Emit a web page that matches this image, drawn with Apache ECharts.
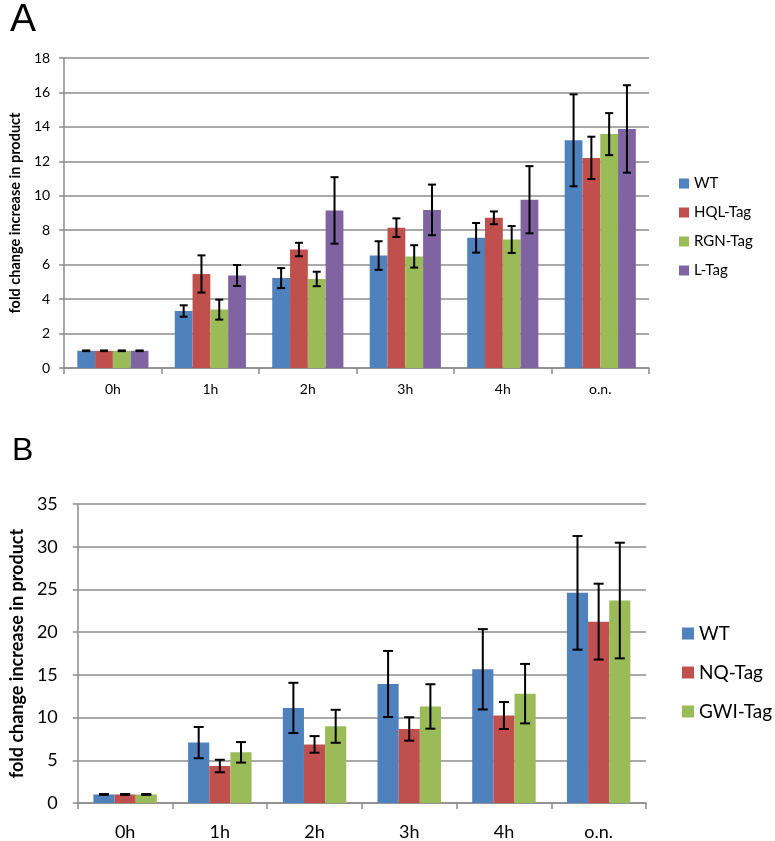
<!DOCTYPE html>
<html>
<head>
<meta charset="utf-8">
<script src="https://cdn.jsdelivr.net/npm/echarts@6/dist/echarts.min.js"></script>
<style>html,body{margin:0;padding:0;background:#fff}#c{width:775px;height:841px}</style>
</head>
<body>
<div id="c"></div>
<script>
// Panel A
const catsA = ['0h','1h','2h','3h','4h','o.n.'];
const namesA = ['WT','HQL-Tag','RGN-Tag','L-Tag'];
const wtA   = [1.0, 3.31, 5.22, 6.53, 7.56, 13.22];
const hqlA  = [1.0, 5.46, 6.88, 8.15, 8.72, 12.2];
const rgnA  = [1.0, 3.39, 5.17, 6.48, 7.46, 13.58];
const lA    = [1.0, 5.37, 9.15, 9.18, 9.77, 13.88];
const wtAErr  = [0.02, 0.33, 0.58, 0.83, 0.86, 2.67];
const hqlAErr = [0.02, 1.08, 0.39, 0.54, 0.37, 1.23];
const rgnAErr = [0.02, 0.58, 0.42, 0.65, 0.78, 1.22];
const lAErr   = [0.02, 0.61, 1.93, 1.47, 1.95, 2.54];
const ticksA = [0,2,4,6,8,10,12,14,16,18];

// Panel B
const catsB = ['0h','1h','2h','3h','4h','o.n.'];
const namesB = ['WT','NQ-Tag','GWI-Tag'];
const wtB   = [1.0, 7.07, 11.13, 13.93, 15.65, 24.6];
const nqB   = [1.0, 4.33, 6.86, 8.67, 10.24, 21.23];
const gwiB  = [1.0, 5.93, 8.98, 11.3, 12.8, 23.7];
const wtBErr  = [0.05, 1.83, 2.94, 3.87, 4.7, 6.65];
const nqBErr  = [0.05, 0.73, 0.97, 1.37, 1.58, 4.44];
const gwiBErr = [0.05, 1.2, 1.93, 2.6, 3.48, 6.77];
const ticksB = [0,5,10,15,20,25,30,35];

const colors = ['#4F81BD','#C0504D','#9BBB59','#8064A2'];
const FONT = 'Lato, "Open Sans", sans-serif';
const GRID_COLOR = '#8c8c8c';

function errSeries(vals, errs, idx, n, gap, axisIdx, capHalf) {
  return {
    type: 'custom',
    xAxisIndex: axisIdx, yAxisIndex: axisIdx,
    silent: true, z: 10,
    data: vals.map((v, i) => [i, v - errs[i], v + errs[i]]),
    encode: {x: 0, y: [1, 2]},
    renderItem: function (params, api) {
      const ci = api.value(0);
      const lo = api.coord([ci, api.value(1)]);
      const hi = api.coord([ci, api.value(2)]);
      const catW = api.size([1, 0])[0];
      const bw = catW * (1 - gap) / n;
      const x = lo[0] + (idx - (n - 1) / 2) * bw;
      const st = {stroke: '#000', lineWidth: 2};
      return {
        type: 'group',
        children: [
          {type: 'line', shape: {x1: x, y1: lo[1], x2: x, y2: hi[1]}, style: st},
          {type: 'line', shape: {x1: x - capHalf, y1: lo[1], x2: x + capHalf, y2: lo[1]}, style: st},
          {type: 'line', shape: {x1: x - capHalf, y1: hi[1], x2: x + capHalf, y2: hi[1]}, style: st}
        ]
      };
    }
  };
}

const gapA = 0.27, gapB = 0.33;
const seriesA = [wtA, hqlA, rgnA, lA];
const errsA = [wtAErr, hqlAErr, rgnAErr, lAErr];
const seriesB = [wtB, nqB, gwiB];
const errsB = [wtBErr, nqBErr, gwiBErr];

const series = [];
seriesA.forEach((d, i) => series.push({
  name: namesA[i], type: 'bar', xAxisIndex: 0, yAxisIndex: 0, data: d,
  barGap: '0%', barCategoryGap: (gapA * 100) + '%',
  itemStyle: {color: colors[i]}, emphasis: {disabled: true}
}));
seriesB.forEach((d, i) => series.push({
  name: namesB[i] + ' ', type: 'bar', xAxisIndex: 1, yAxisIndex: 1, data: d,
  barGap: '0%', barCategoryGap: (gapB * 100) + '%',
  itemStyle: {color: colors[i]}, emphasis: {disabled: true}
}));
seriesA.forEach((d, i) => series.push(errSeries(d, errsA[i], i, 4, gapA, 0, 4)));
seriesB.forEach((d, i) => series.push(errSeries(d, errsB[i], i, 3, gapB, 1, 5)));

function yAxis(idx, ticks, fs, margin, nameFs, nameGap) {
  return {
    type: 'value', gridIndex: idx,
    min: ticks[0], max: ticks[ticks.length - 1], interval: ticks[1] - ticks[0],
    name: 'fold change increase in product', nameLocation: 'middle', nameGap: nameGap,
    nameTextStyle: {fontFamily: FONT, fontWeight: 'bold', fontSize: nameFs, color: '#000'},
    axisLine: {show: true, lineStyle: {color: GRID_COLOR, width: 1.5}},
    axisTick: {show: true, length: 5, lineStyle: {color: GRID_COLOR, width: 1.5}},
    axisLabel: {fontFamily: FONT, fontSize: fs, color: '#000', margin: margin},
    splitLine: {show: true, lineStyle: {color: GRID_COLOR, width: 1.5}}
  };
}
function xAxis(idx, cats, fs, margin) {
  return {
    type: 'category', gridIndex: idx, data: cats,
    axisLine: {show: true, lineStyle: {color: GRID_COLOR, width: 1.5}},
    axisTick: {show: true, length: 6, lineStyle: {color: GRID_COLOR, width: 1.5}},
    axisLabel: {fontFamily: FONT, fontSize: fs, color: '#000', margin: margin}
  };
}

const option = {
  animation: false,
  backgroundColor: '#fff',
  title: [
    {text: 'A', left: 5, top: -4, textStyle: {fontFamily: '"Liberation Sans", Arial, sans-serif', fontWeight: 'normal', fontSize: 39, color: '#000'}},
    {text: 'B', left: 7, top: 430, textStyle: {fontFamily: '"Liberation Sans", Arial, sans-serif', fontWeight: 'normal', fontSize: 32, color: '#000'}}
  ],
  grid: [
    {left: 64, right: 126, top: 58, bottom: 473},
    {left: 72, right: 129, top: 504, bottom: 37}
  ],
  xAxis: [xAxis(0, catsA, 14, 14), xAxis(1, catsB, 18, 20)],
  yAxis: [yAxis(0, ticksA, 14, 14, 14.5, 37), yAxis(1, ticksB, 18, 20, 18, 44)],
  legend: [
    {orient: 'vertical', left: 674, top: 171, icon: 'rect', itemWidth: 10, itemHeight: 10, itemGap: 14,
     data: namesA, textStyle: {fontFamily: FONT, fontSize: 15, color: '#000'}, selectedMode: false},
    {orient: 'vertical', left: 677, top: 619, icon: 'rect', itemWidth: 12, itemHeight: 12, itemGap: 20,
     data: namesB.map(n => n + ' '), textStyle: {fontFamily: FONT, fontSize: 19, color: '#000'}, selectedMode: false}
  ],
  series: series
};
const chart = echarts.init(document.getElementById('c'), null, {renderer: 'canvas'});
chart.setOption(option);
</script>
</body>
</html>
